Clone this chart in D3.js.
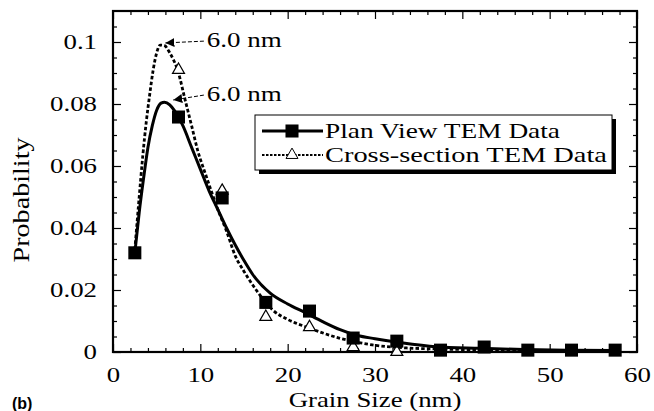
<!DOCTYPE html>
<html>
<head>
<meta charset="utf-8">
<script src="https://cdn.jsdelivr.net/npm/d3@7"></script>
<style>
  body { margin: 0; background: #fff; }
  svg { display: block; }
  text { font-family: "Liberation Serif", "Times New Roman", serif; fill: #000; }
</style>
</head>
<body>
<svg id="chart" width="654" height="411"></svg>
<script>
// Data
let binCenters = [2.5, 7.5, 12.5, 17.5, 22.5, 27.5, 32.5, 37.5, 42.5, 47.5, 52.5, 57.5]
let planView = [0.032, 0.0758, 0.0497, 0.016, 0.0132, 0.0045, 0.0035, 0.0006, 0.0016, 0.0006, 0.0006, 0.0006]
let crossCenters = [7.5, 12.5, 17.5, 22.5, 27.5, 32.5]
let crossSection = [0.091, 0.052, 0.0113, 0.008, 0.0016, 0.0]

// fitted curves
let planFitX = [2.5, 3.0, 3.5, 4.0, 4.5, 5.0, 5.5, 5.9, 6.5, 7.0, 8.0, 9.0, 10, 11, 12, 13, 14, 15, 16, 18, 20, 22, 24, 26, 28, 30, 33, 37, 42, 47, 52, 57.5]
let planFitY = [0.032, 0.045, 0.056, 0.066, 0.073, 0.078, 0.0803, 0.0806, 0.0797, 0.078, 0.073, 0.066, 0.059, 0.052, 0.046, 0.040, 0.0345, 0.0295, 0.025, 0.019, 0.0155, 0.0127, 0.0098, 0.0072, 0.0053, 0.0043, 0.003, 0.0017, 0.0012, 0.0008, 0.0006, 0.0005]
let crossFitX = [2.5, 3.0, 3.4, 3.8, 4.2, 4.6, 5.0, 5.4, 5.9, 6.5, 7.5, 8.2, 9.0, 9.7, 10.7, 12, 13, 14, 15, 16.4, 18.3, 20, 22.2, 25.9, 29.7, 33.6, 37, 42, 47, 52, 57.5]
let crossFitY = [0.033, 0.050, 0.063, 0.074, 0.083, 0.091, 0.0965, 0.099, 0.0988, 0.0965, 0.090, 0.082, 0.073, 0.065, 0.0565, 0.046, 0.039, 0.031, 0.026, 0.020, 0.0135, 0.0105, 0.008, 0.0045, 0.0023, 0.0013, 0.001, 0.0007, 0.0005, 0.0004, 0.0004]

let xTicks = [0, 10, 20, 30, 40, 50, 60]
let yTicks = [0, 0.02, 0.04, 0.06, 0.08, 0.1]
let yTickLabels = ["0", "0.02", "0.04", "0.06", "0.08", "0.1"]
let seriesNames = ["Plan View TEM Data", "Cross-section TEM Data"]
// peak annotations: arrow tip and label anchor, in data units
let peakText = ["6.0 nm", "6.0 nm"]
let peakTip = [[6.0, 0.0997], [6.9, 0.0813]]
let peakLabelAt = [[10.75, 0.1006], [10.75, 0.0832]]

// Layout
let mLeft = 113, mRight = 637, mTop = 11, mBottom = 352
let stretch = 1.22

let svg = d3.select("#chart")
let x = d3.scaleLinear().domain([0, 60]).range([mLeft, mRight])
let y = d3.scaleLinear().domain([0, 0.11]).range([mBottom, mTop])

let minorX = d3.range(0, 61, 2).filter(d => d % 10 !== 0)
let minorY = d3.range(1, 22).map(i => i * 0.005).filter((d, i) => (i + 1) % 4 !== 0)

let plain = g => g.select(".domain").remove()

// minor ticks, all four sides
svg.append("g").attr("transform", `translate(0,${mBottom})`)
  .call(d3.axisBottom(x).tickValues(minorX).tickSize(-4).tickFormat("")).call(plain)
svg.append("g").attr("transform", `translate(0,${mTop})`)
  .call(d3.axisTop(x).tickValues(minorX).tickSize(-4).tickFormat("")).call(plain)
svg.append("g").attr("transform", `translate(${mLeft},0)`)
  .call(d3.axisLeft(y).tickValues(minorY).tickSize(-4).tickFormat("")).call(plain)
svg.append("g").attr("transform", `translate(${mRight},0)`)
  .call(d3.axisRight(y).tickValues(minorY).tickSize(-4).tickFormat("")).call(plain)

// major ticks + labels
let xAx = svg.append("g").attr("transform", `translate(0,${mBottom})`)
  .call(d3.axisBottom(x).tickValues(xTicks).tickSize(-8).tickFormat(d3.format("d"))).call(plain)
xAx.selectAll("text").attr("y", 30).attr("dy", 0)
  .attr("transform", `scale(${stretch},1)`).style("font-size", "22px")
svg.append("g").attr("transform", `translate(0,${mTop})`)
  .call(d3.axisTop(x).tickValues(xTicks).tickSize(-8).tickFormat("")).call(plain)

let yAx = svg.append("g").attr("transform", `translate(${mLeft},0)`)
  .call(d3.axisLeft(y).tickValues(yTicks).tickSize(-8).tickFormat((d, i) => yTickLabels[i])).call(plain)
yAx.selectAll("text").attr("x", -16 / stretch).attr("dy", "0.3em")
  .attr("transform", `scale(${stretch},1)`).style("font-size", "22px")
svg.append("g").attr("transform", `translate(${mRight},0)`)
  .call(d3.axisRight(y).tickValues(yTicks).tickSize(-8).tickFormat("")).call(plain)

svg.selectAll(".tick line").attr("stroke", "#000").attr("stroke-width", 1.2)
svg.selectAll(".tick text").attr("fill", "#000").style("font-family", "Liberation Serif, serif")

// frame
svg.append("rect").attr("x", mLeft).attr("y", mTop)
  .attr("width", mRight - mLeft).attr("height", mBottom - mTop)
  .attr("fill", "none").attr("stroke", "#000").attr("stroke-width", 2.2)

// fitted curves
let line = d3.line().x(d => x(d[0])).y(d => y(d[1])).curve(d3.curveMonotoneX)
let planFit = d3.zip(planFitX, planFitY)
let crossFit = d3.zip(crossFitX, crossFitY)

svg.append("path").attr("d", line(crossFit))
  .attr("fill", "none").attr("stroke", "#000").attr("stroke-width", 2.8)
  .attr("stroke-dasharray", "3.5,2.2")
svg.append("path").attr("d", line(planFit))
  .attr("fill", "none").attr("stroke", "#000").attr("stroke-width", 3)

// markers
let tri = d3.symbol(d3.symbolTriangle, 62)
let sq = d3.symbol(d3.symbolSquare, 170)
svg.append("g").selectAll("path").data(d3.zip(crossCenters, crossSection)).join("path")
  .attr("d", tri).attr("transform", d => `translate(${x(d[0])},${y(d[1])})`)
  .attr("fill", "#fff").attr("stroke", "#000").attr("stroke-width", 1.2)
svg.append("g").selectAll("path").data(d3.zip(binCenters, planView)).join("path")
  .attr("d", sq).attr("transform", d => `translate(${x(d[0])},${y(d[1])})`)
  .attr("fill", "#000")

// peak annotations
svg.append("defs").append("marker")
  .attr("id", "head").attr("viewBox", "0 0 10 10").attr("refX", 10).attr("refY", 5)
  .attr("markerWidth", 9).attr("markerHeight", 9).attr("markerUnits", "userSpaceOnUse")
  .attr("orient", "auto")
  .append("path").attr("d", "M0,0L10,5L0,10z").attr("fill", "#000")

peakText.forEach((t, i) => {
  let lx = x(peakLabelAt[i][0]), ly = y(peakLabelAt[i][1])
  svg.append("line")
    .attr("x1", lx - 3).attr("y1", ly + 1)
    .attr("x2", x(peakTip[i][0])).attr("y2", y(peakTip[i][1]))
    .attr("stroke", "#000").attr("stroke-width", 1).attr("stroke-dasharray", "4,2")
    .attr("marker-end", "url(#head)")
  svg.append("text").attr("x", lx).attr("y", ly).attr("dy", "0.33em")
    .style("font-size", "22px").attr("textLength", 75).attr("lengthAdjust", "spacingAndGlyphs")
    .text(t)
})

// legend
let lg = svg.append("g").attr("transform", "translate(255,115)")
lg.append("rect").attr("x", 4).attr("y", 4).attr("width", 357).attr("height", 55).attr("fill", "#000")
lg.append("rect").attr("width", 357).attr("height", 55)
  .attr("fill", "#fff").attr("stroke", "#000").attr("stroke-width", 1)
let rows = [16, 40]
let legendWidth = [235, 282]
seriesNames.forEach((name, i) => {
  let row = lg.append("g").attr("transform", `translate(0,${rows[i]})`)
  row.append("line").attr("x1", 7).attr("x2", 68)
    .attr("stroke", "#000").attr("stroke-width", i === 0 ? 3 : 2.2)
    .attr("stroke-dasharray", i === 0 ? null : "2.5,1.5")
  row.append("path").attr("transform", "translate(37,0)")
    .attr("d", i === 0 ? sq : tri)
    .attr("fill", i === 0 ? "#000" : "#fff").attr("stroke", "#000").attr("stroke-width", i === 0 ? 0 : 1)
  row.append("text").attr("x", 70).attr("dy", "0.35em")
    .style("font-size", "21px").attr("textLength", legendWidth[i]).attr("lengthAdjust", "spacingAndGlyphs")
    .text(name)
})

// axis titles
svg.append("text").attr("transform", `translate(${(mLeft + mRight) / 2},407) scale(${stretch},1)`)
  .attr("text-anchor", "middle").style("font-size", "22px").text("Grain Size (nm)")
svg.append("text").attr("transform", "translate(29,200) rotate(-90)")
  .attr("text-anchor", "middle").style("font-size", "23px")
  .attr("textLength", 125).attr("lengthAdjust", "spacingAndGlyphs").text("Probability")

svg.append("text").attr("x", 12).attr("y", 409)
  .style("font-family", "Liberation Sans, Arial, sans-serif").style("font-weight", "bold")
  .style("font-size", "16px").text("(b)")
</script>
</body>
</html>
